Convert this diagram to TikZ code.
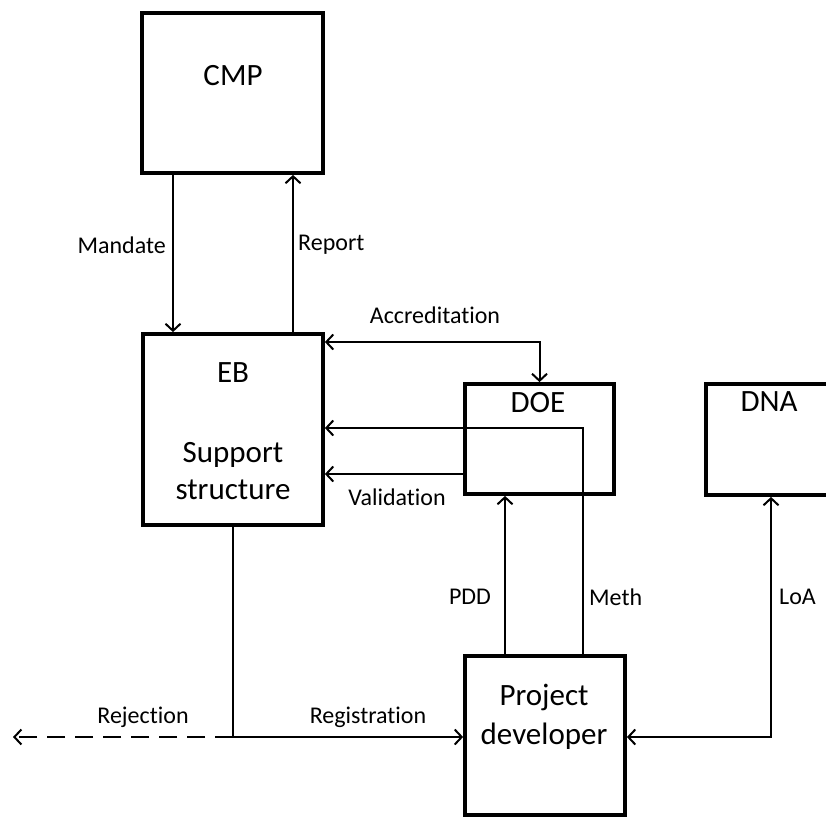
\documentclass[tikz,border=0pt]{standalone}
\usepackage{fontspec}
\setmainfont{Carlito}[Ligatures={NoCommon}]
\usetikzlibrary{arrows.meta,calc}
\begin{document}
\begin{tikzpicture}[x=1pt,y=-1pt,
  box/.style={draw, rectangle, line width=3.8pt, inner sep=0pt},
  big/.style={font=\fontsize{31}{38}\selectfont, inner sep=0pt, align=center},
  lbl/.style={font=\fontsize{24}{29}\selectfont, inner sep=0pt},
  arr/.style={line width=2pt, -{Straight Barb[length=7pt,width=15pt]}},
  darr/.style={line width=2pt, {Straight Barb[length=7pt,width=15pt]}-{Straight Barb[length=7pt,width=15pt]}}]
\useasboundingbox (0,0) rectangle (826,817);
\clip (0,0) rectangle (826,817);
% boxes
\node[box, minimum width=181pt, minimum height=160pt] (cmp) at (232.5,93) {};
\node[box, minimum width=180pt, minimum height=191pt] (eb) at (233,429.5) {};
\node[box, minimum width=149pt, minimum height=110pt] (doe) at (539.5,439) {};
\node[box, minimum width=130pt, minimum height=111pt] (dna) at (771,439.5) {};
\node[box, minimum width=160pt, minimum height=159pt] (pd) at (545,735.5) {};
% box texts
\node[big] (tcmp) at (233,76) {CMP};
\node[big] (teb) at (233,373) {EB};
\node[big, font=\fontsize{31}{37}\selectfont] (tss) at (233,471) {Support\\structure};
\node[big] (tdoe) at (538,403) {DOE};
\node[big] (tdna) at (769,402) {DNA};
\node[big, font=\fontsize{31}{39}\selectfont] (tpd) at (544,717) {Project\\developer};
% helper coordinates
\coordinate (xm) at (173,0);
\coordinate (xr) at (293,0);
\coordinate (yacc) at (0,342);
\coordinate (ymeth) at (0,428);
\coordinate (yval) at (0,474);
\coordinate (xpdd) at (505,0);
\coordinate (xmeth) at (583,0);
\coordinate (xloa) at (771,0);
\coordinate (yreg) at (0,737);
\coordinate (j) at (eb.south |- yreg);
\coordinate (rej) at (13,737);
% connectors
\draw[arr] (cmp.south -| xm) -- (eb.north -| xm);
\draw[arr] (eb.north -| xr) -- (cmp.south -| xr);
\draw[darr] (eb.east |- yacc) -| (doe.north);
\draw[arr] (pd.north -| xmeth) |- (eb.east |- ymeth);
\draw[arr] (doe.west |- yval) -- (eb.east |- yval);
\draw[arr] (pd.north -| xpdd) -- (doe.south -| xpdd);
\draw[darr] (pd.east |- yreg) -| (dna.south -| xloa);
\draw[line width=2pt] (eb.south) -- (j);
\draw[arr] (j) -- (pd.west |- yreg);
\draw[arr, dash pattern=on 18pt off 10pt] (j) -- (rej);
% labels
\node[lbl, anchor=east] (lmand) at (166,245) {Mandate};
\node[lbl, anchor=west] (lrep) at (298,245) {Report};
\node[lbl] (lacc) at (435,315) {Accreditation};
\node[lbl] (lval) at (397,497) {Validation};
\node[lbl] (lpdd) at (470,597) {PDD};
\node[lbl, anchor=west] (lmeth) at (589,597) {Meth};
\node[lbl, anchor=west] (lloa) at (779,597) {LoA};
\node[lbl] (lrej) at (143,717) {Rejection};
\node[lbl] (lreg) at (368,717) {Registration};
\end{tikzpicture}
\end{document}
